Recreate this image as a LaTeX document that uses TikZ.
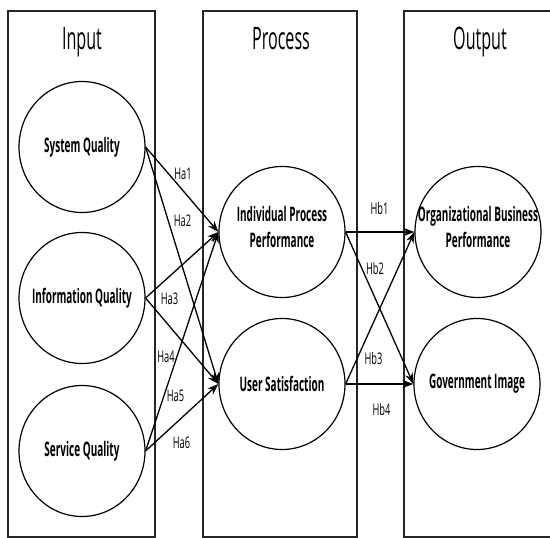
\documentclass[tikz,border=0pt]{standalone}
\usepackage{fontspec}
\setmainfont{Open Sans}
\usetikzlibrary{arrows.meta,shapes.geometric}
\newcommand{\sqz}[2][0.5]{\scalebox{#1}[1]{#2}}
\begin{document}
\begin{tikzpicture}[x=1pt,y=-1pt,
  frame/.style={draw=black!85,line width=1.1pt},
  construct/.style={draw,ellipse,line width=1.2pt,minimum width=126pt,minimum height=131pt,inner sep=0pt},
  ctext/.style={inner sep=0pt,font=\bfseries\fontsize{20}{26}\selectfont},
  title/.style={font=\fontsize{31}{34}\selectfont,inner sep=0pt,anchor=base},
  hyp/.style={font=\fontsize{16}{18}\selectfont,inner sep=0pt},
  link/.style={line width=1.3pt,-{Stealth[length=11pt,width=8pt]}}]
\useasboundingbox (0,0) rectangle (550,538);
\begin{scope}
\clip (0,0) rectangle (550,538);
% frames
\draw[frame] (8,11) rectangle (155,537);
\draw[frame] (203,11) rectangle (357,537);
\draw[frame] (404,11) rectangle (560,537);
\end{scope}
% titles
\node[title] (tin) at (82,49) {\sqz[0.52]{Input}};
\node[title] (tpr) at (281,49) {\sqz[0.52]{Process}};
\node[title] (tout) at (480,49) {\sqz[0.52]{Output}};
% constructs
\node[construct] (sq) at (82,147) {};
\node[construct] (iq) at (82,298) {};
\node[construct] (svq) at (82,451) {};
\node[construct] (ipp) at (282,232) {};
\node[construct] (us) at (282,384) {};
\node[construct] (obp) at (478,232) {};
\node[construct] (gi) at (477,384) {};
\node[ctext] (sqt) at (sq.center) {\sqz{System Quality}};
\node[ctext] (iqt) at (iq.center) {\sqz{Information Quality}};
\node[ctext] (svqt) at (svq.center) {\sqz{Service Quality}};
\node[ctext] (ippt) at ([yshift=3pt]ipp.center) {\sqz{\begin{tabular}{@{}c@{}}Individual Process\\Performance\end{tabular}}};
\node[ctext] (ust) at (us.center) {\sqz{User Satisfaction}};
\node[ctext] (obpt) at ([yshift=3pt]obp.center) {\sqz{\begin{tabular}{@{}c@{}}Organizational Business\\Performance\end{tabular}}};
\node[ctext] (git) at (gi.center) {\sqz{Government Image}};
% links
\draw[link] (sq.east) -- (ipp.west);
\draw[link] (sq.east) -- (us.west);
\draw[link] (iq.east) -- (ipp.west);
\draw[link] (iq.east) -- (us.west);
\draw[link] (svq.east) -- (ipp.west);
\draw[link] (svq.east) -- (us.west);
\draw[link] (ipp.east) -- (obp.west);
\draw[link] (ipp.east) -- (gi.west);
\draw[link] (us.east) -- (obp.west);
\draw[link] (us.east) -- (gi.west);
% hypothesis labels
\node[hyp] (ha1) at (183,174) {\sqz[0.58]{Ha1}};
\node[hyp] (ha2) at (182.5,221) {\sqz[0.58]{Ha2}};
\node[hyp] (ha3) at (169.5,298.5) {\sqz[0.58]{Ha3}};
\node[hyp] (ha4) at (166,357) {\sqz[0.58]{Ha4}};
\node[hyp] (ha5) at (175.5,396) {\sqz[0.58]{Ha5}};
\node[hyp] (ha6) at (181.5,443) {\sqz[0.58]{Ha6}};
\node[hyp] (hb1) at (379.5,208.5) {\sqz[0.58]{Hb1}};
\node[hyp] (hb2) at (375,268.5) {\sqz[0.58]{Hb2}};
\node[hyp] (hb3) at (373.5,358) {\sqz[0.58]{Hb3}};
\node[hyp] (hb4) at (381.5,409.5) {\sqz[0.58]{Hb4}};
\end{tikzpicture}
\end{document}
